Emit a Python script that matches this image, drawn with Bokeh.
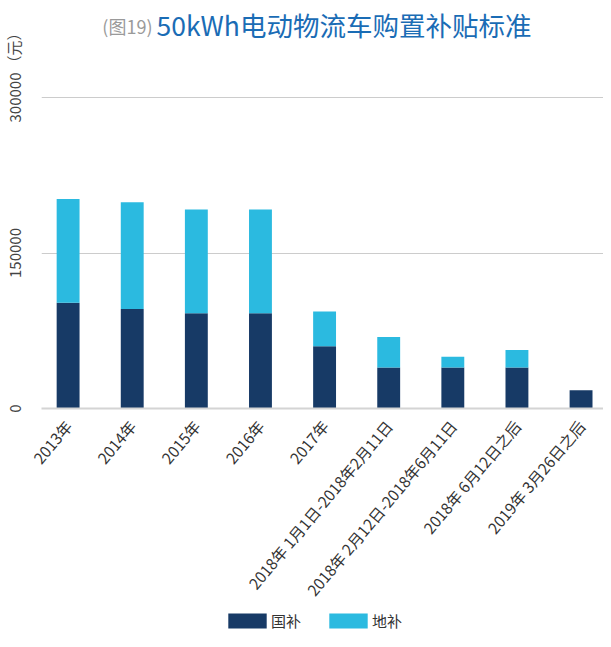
import math
from bokeh.plotting import figure
from bokeh.layouts import column
from bokeh.models import (ColumnDataSource, Range1d, FixedTicker, Label, Legend, LegendItem,
                          BasicTickFormatter)
from bokeh.embed import file_html
from bokeh.resources import INLINE

categories = ["2013年", "2014年", "2015年", "2016年", "2017年",
              "2018年 1月1日-2018年2月11日", "2018年 2月12日-2018年6月11日",
              "2018年 6月12日之后", "2019年 3月26日之后"]
national = [102000, 96000, 92000, 92000, 60000, 39500, 39500, 39500, 17500]
local = [100000, 103000, 100000, 100000, 33500, 29500, 10500, 17000, 0]
y_ticks = [0, 150000, 300000]
series_names = ["国补", "地补"]
colors = ["#173a66", "#2bbae0"]
title_prefix = "(图19)"
title_text = "50kWh电动物流车购置补贴标准"
unit_text = "（元）"

FONT = "Noto Sans CJK SC"
W = 603
FRAME_H = 408          # plot frame runs from the top of the canvas to the zero line
BOTTOM = 202           # room for the rotated category labels
Y_MAX = 300000 * FRAME_H / 311
UNIT_TICK = 347750     # where the unit note sits on the value axis

positions = list(range(len(categories)))
source = ColumnDataSource(dict(x=positions, 国补=national, 地补=local))

p = figure(width=W, height=FRAME_H + BOTTOM, output_backend="svg", toolbar_location=None,
           x_range=Range1d(-0.415, 8.35), y_range=Range1d(0, Y_MAX),
           min_border_left=39, min_border_right=0, min_border_top=0,
           min_border_bottom=BOTTOM)
p.outline_line_color = None
p.background_fill_color = "white"
p.border_fill_color = "white"

p.vbar_stack(series_names, x="x", width=0.357, source=source,
             color=colors, line_color=None)

p.xaxis.ticker = FixedTicker(ticks=positions)
p.xaxis.major_label_overrides = {i: c for i, c in enumerate(categories)}
p.xaxis.major_label_orientation = math.radians(50)
p.xaxis.major_label_text_font = FONT
p.xaxis.major_label_text_font_size = "15.5px"
p.xaxis.major_label_text_color = "#333333"
p.xaxis.major_tick_line_color = None
p.xaxis.minor_tick_line_color = None
p.xaxis.axis_line_color = "#d4d4d4"
p.xaxis.axis_line_width = 2
p.xaxis.major_label_standoff = 8

p.yaxis.ticker = FixedTicker(ticks=y_ticks + [UNIT_TICK])
p.yaxis.formatter = BasicTickFormatter(use_scientific=False)
p.yaxis.major_label_overrides = {UNIT_TICK: unit_text}
p.yaxis.major_label_orientation = "vertical"
p.yaxis.major_label_text_font = FONT
p.yaxis.major_label_text_font_size = "15px"
p.yaxis.major_label_text_color = "#444444"
p.yaxis.axis_line_color = None
p.yaxis.major_tick_line_color = None
p.yaxis.minor_tick_line_color = None
p.yaxis.major_label_standoff = 11

p.xgrid.grid_line_color = None
p.ygrid.ticker = FixedTicker(ticks=y_ticks)
p.ygrid.grid_line_color = "#cccccc"
p.ygrid.grid_line_width = 1

# title (two colours), drawn inside the empty top part of the frame
p.add_layout(Label(x=111, y=FRAME_H - 25, x_units="screen", y_units="screen", text=title_prefix,
                   text_font=FONT, text_font_size="18px", text_color="#9a9a9a",
                   text_align="right", text_baseline="middle"))
p.add_layout(Label(x=115, y=FRAME_H - 24, x_units="screen", y_units="screen", text=title_text,
                   text_font=FONT, text_font_size="26.5px", text_color="#1a6cb5",
                   text_align="left", text_baseline="middle"))

# ---- legend band (its bar renderers lie far outside the band's ranges) ----
LH = 631 - (FRAME_H + BOTTOM)
lf = figure(width=W, height=LH, output_backend="svg", toolbar_location=None,
            x_range=Range1d(-1001, -1000), y_range=Range1d(1e9, 2e9), min_border=0)
lf.axis.visible = False
lf.grid.grid_line_color = None
lf.outline_line_color = None
lf.border_fill_color = "white"
lf.background_fill_color = "white"
swatches = lf.vbar_stack(series_names, x="x", width=0.357, source=source,
                         color=colors, line_color=None)
legend = Legend(items=[LegendItem(label=n, renderers=[r]) for n, r in zip(series_names, swatches)],
                orientation="horizontal", location=(182, 0),
                glyph_width=48, glyph_height=19, label_standoff=0, spacing=23,
                label_text_font=FONT, label_text_font_size="15px", label_text_color="#333333",
                border_line_color=None, background_fill_alpha=0, padding=0, margin=0)
lf.add_layout(legend)

layout = column(p, lf, spacing=0)
open("out.html", "w").write(file_html(layout, INLINE))
